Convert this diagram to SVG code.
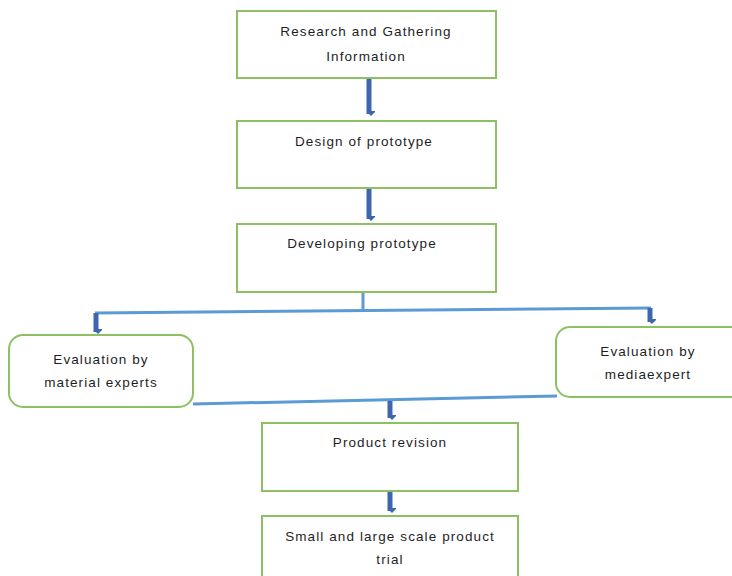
<svg xmlns="http://www.w3.org/2000/svg" width="732" height="576" viewBox="0 0 732 576">
<defs>
<style>
.box{fill:#fff;stroke:#8cc063;stroke-width:2}
.t{font-family:"Liberation Sans",Arial,sans-serif;font-size:13.5px;fill:#1e1e1e;text-anchor:middle;letter-spacing:1.1px}
.ln{fill:none;stroke:#5b9bd5;stroke-width:3}
.ar{fill:none;stroke:#3e66b0;stroke-width:5;marker-end:url(#ah)}
</style>
<marker id="ah" markerUnits="userSpaceOnUse" markerWidth="12" markerHeight="8" refX="6" refY="6" orient="auto-start-reverse" viewBox="0 0 12 8">
<path d="M1,1 L11,1 L6,6 Z" fill="#3e66b0" transform="rotate(-90 6 4)"/>
</marker>
</defs>
<rect width="732" height="576" fill="#fff"/>
<g id="connectors">
<line class="ar" x1="369" y1="79" x2="369" y2="114"/>
<line class="ar" x1="369" y1="188" x2="369" y2="219"/>
<polyline class="ln" points="363,292 363,311"/>
<line class="ln" x1="95" y1="313" x2="651" y2="308"/>
<line class="ar" x1="96" y1="313" x2="96" y2="332"/>
<line class="ar" x1="650" y1="308" x2="650" y2="322"/>
<line class="ln" x1="193" y1="404" x2="557" y2="396"/>
<line class="ar" x1="390" y1="401" x2="390" y2="418"/>
<line class="ar" x1="390" y1="491" x2="390" y2="511"/>
</g>
<g id="n1"><rect class="box" x="237" y="11" width="259" height="67"/><text class="t" x="366" y="36">Research and Gathering</text><text class="t" x="366" y="61">Information</text></g>
<g id="n2"><rect class="box" x="237" y="121" width="259" height="67"/><text class="t" x="364" y="146">Design of prototype</text></g>
<g id="n3"><rect class="box" x="237" y="224" width="259" height="68"/><text class="t" x="362" y="248">Developing prototype</text></g>
<g id="n4"><rect class="box" x="9" y="335" width="184" height="72" rx="14"/><text class="t" x="101" y="364">Evaluation by</text><text class="t" x="101" y="387">material experts</text></g>
<g id="n5"><rect class="box" x="556" y="327" width="190" height="70" rx="14"/><text class="t" x="648" y="356">Evaluation by</text><text class="t" x="648" y="379">mediaexpert</text></g>
<g id="n6"><rect class="box" x="262" y="423" width="256" height="68"/><text class="t" x="390" y="447">Product revision</text></g>
<g id="n7"><rect class="box" x="262" y="516" width="256" height="70"/><text class="t" x="390" y="541">Small and large scale product</text><text class="t" x="390" y="564">trial</text></g>
</svg>
